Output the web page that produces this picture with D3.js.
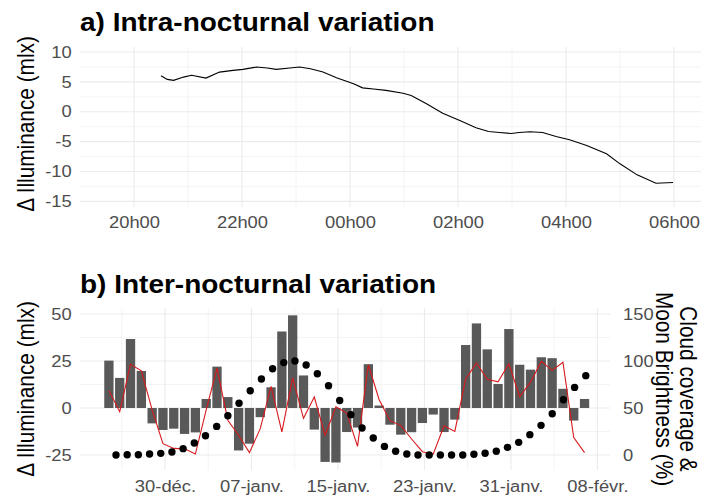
<!DOCTYPE html>
<html><head><meta charset="utf-8">
<script src="https://cdn.jsdelivr.net/npm/d3@7"></script>
<style>body{margin:0;background:#fff} svg{display:block} text{font-family:"Liberation Sans",Arial,sans-serif}</style>
</head><body><svg id="c" width="706" height="495"></svg>
<script>
// ---------- Panel a data ----------
const timesA = ["20:30","20:37","20:44","20:55","21:04","21:20","21:35","21:50","22:01","22:16","22:28","22:38","22:53","23:04","23:16","23:30","23:45","00:04","00:14","00:26","00:40","00:59","01:08","01:25","01:43","02:02","02:20","02:34","02:46","02:59","03:08","03:20","03:34","03:49","04:04","04:23","04:45","05:00","05:19","05:40","05:59"];
const illumA = [6.04,5.42,5.25,5.8,6.1,5.64,6.64,6.93,7.1,7.48,7.32,7.1,7.32,7.48,7.2,6.64,5.7,4.7,4.0,3.8,3.57,3.1,2.73,1.34,-0.24,-1.46,-2.69,-3.3,-3.47,-3.64,-3.47,-3.36,-3.47,-4.14,-4.7,-5.65,-7.05,-8.72,-10.57,-11.97,-11.86];
const hourTicksA = ["20:00","22:00","00:00","02:00","04:00","06:00"];
const hourMinorA = ["21:00","23:00","01:00","03:00","05:00"];
const yTicksA = [-15,-10,-5,0,5,10];
const yMinorA = [-12.5,-7.5,-2.5,2.5,7.5];

// ---------- Panel b data ----------
const nights = ["2019-12-24","2019-12-25","2019-12-26","2019-12-27","2019-12-28","2019-12-29","2019-12-30","2019-12-31",
"2020-01-01","2020-01-02","2020-01-03","2020-01-04","2020-01-05","2020-01-06","2020-01-07","2020-01-08","2020-01-09","2020-01-10",
"2020-01-11","2020-01-12","2020-01-13","2020-01-14","2020-01-15","2020-01-16","2020-01-17","2020-01-18","2020-01-19","2020-01-20",
"2020-01-21","2020-01-22","2020-01-23","2020-01-24","2020-01-25","2020-01-26","2020-01-27","2020-01-28","2020-01-29","2020-01-30",
"2020-01-31","2020-02-01","2020-02-02","2020-02-03","2020-02-04","2020-02-05","2020-02-06"];
const illumB = [25.2,16.0,36.7,19.7,-8.2,-11.7,-11.0,-13.8,-13.0,4.8,22.0,5.8,-22.6,-19.0,-4.9,11.0,40.7,49.3,17.3,-11.5,-28.7,-29.0,-12.8,-10.4,23.3,1.3,-8.9,-14.2,-12.9,-8.0,-3.5,-12.8,-6.2,33.5,45.0,31.2,12.8,42.0,23.0,20.4,27.0,26.5,10.2,-6.7,4.8];
const cloudB = [68.7,46,96.5,89.5,48,12,7,6.5,1,48,92.5,37,21,2.5,28,73,24.5,82,39,61.7,21,51.3,44.5,9.1,96,58.8,36.5,31.5,17,3.5,0.8,31,25.1,81,98,80.5,77.8,97,62,77.5,99.6,90,98.7,18.6,2.5];
const moonTimes = ["2019-12-25 11:15","2019-12-26 12:05","2019-12-27 12:55","2019-12-28 13:45","2019-12-29 14:35","2019-12-30 15:25","2019-12-31 16:15",
"2020-01-01 17:05","2020-01-02 17:55","2020-01-03 18:45","2020-01-04 19:35","2020-01-05 20:25","2020-01-06 21:15","2020-01-07 22:05","2020-01-08 22:55",
"2020-01-09 23:45","2020-01-11 00:35","2020-01-12 01:25","2020-01-13 02:15","2020-01-14 03:05","2020-01-15 03:55","2020-01-16 04:45","2020-01-17 05:35",
"2020-01-18 06:25","2020-01-19 07:15","2020-01-20 08:05","2020-01-21 08:55","2020-01-22 09:45","2020-01-23 10:35","2020-01-24 11:25","2020-01-25 12:15",
"2020-01-26 13:05","2020-01-27 13:55","2020-01-28 14:45","2020-01-29 15:35","2020-01-30 16:25","2020-01-31 17:15","2020-02-01 18:05","2020-02-02 18:55",
"2020-02-03 19:45","2020-02-04 20:35","2020-02-05 21:25","2020-02-06 22:15"];
const moonB = [0,0.3,0.3,1,1.7,3.2,6.7,12.8,20.5,30.4,41.8,55,68.4,80.8,91.7,98.3,100,95.7,86.5,73.7,58,42.9,28.7,18.1,9.1,3.9,1,0,0,0,0,0,0.7,1.8,3.9,8.1,13.4,21.6,31.5,43.9,58.8,71.9,84.4];
const dateTicksB = ["2019-12-30","2020-01-07","2020-01-15","2020-01-23","2020-01-31","2020-02-08"];
const dateLabelsB = ["30-déc.","07-janv.","15-janv.","23-janv.","31-janv.","08-févr."];
const dateMinorB = ["2019-12-26","2020-01-03","2020-01-11","2020-01-19","2020-01-27","2020-02-04"];
const yTicksB = [-25,0,25,50];
const yMinorB = [-12.5,12.5,37.5];
const secTicksB = [0,50,100,150];

// ---------- helpers ----------
const S = 1.12;            // horizontal text stretch seen in the reference
const TICK_FS = 16.4, TITLE_FS = 25, AXT_FS = 20.8;
const GRID = "#EBEBEB";
const svg = d3.select("#c");
const parseDT = d3.timeParse("%Y-%m-%d %H:%M");
const parseD = d3.timeParse("%Y-%m-%d");
const toTimeA = s => parseDT((+s.slice(0,2) >= 12 ? "2020-01-01 " : "2020-01-02 ") + s);

function styleAxis(g){
  g.attr("font-family",'"Liberation Sans",Arial,sans-serif').attr("font-size",TICK_FS);
  g.select(".domain").remove();
  g.selectAll(".tick line").remove();
  g.selectAll("text").attr("fill","#4D4D4D");
}
function hGrid(g, x0, x1, y, vals, w){
  g.selectAll(null).data(vals).join("line")
   .attr("x1",x0).attr("x2",x1).attr("y1",d=>y(d)).attr("y2",d=>y(d))
   .attr("stroke",GRID).attr("stroke-width",w);
}
function vGrid(g, y0, y1, x, vals, w){
  g.selectAll(null).data(vals).join("line")
   .attr("y1",y0).attr("y2",y1).attr("x1",d=>x(d)).attr("x2",d=>x(d))
   .attr("stroke",GRID).attr("stroke-width",w);
}
function title(txt, x, y){
  svg.append("text").attr("transform",`translate(${x},${y}) scale(${S},1)`)
    .attr("font-size",TITLE_FS).attr("font-weight","bold").attr("fill","#000").text(txt);
}

// ================= Panel a =================
{
  const L=80,R=701,T=47,B=207;
  const x = d3.scaleTime().domain([toTimeA("19:00"), toTimeA("06:30")]).range([L,R]);
  const y = d3.scaleLinear().domain([-15.95,10.84]).range([B,T]);
  const g = svg.append("g");
  hGrid(g,L,R,y,yMinorA,0.55);
  vGrid(g,T,B,x,hourMinorA.map(toTimeA),0.55);
  hGrid(g,L,R,y,yTicksA,1.1);
  vGrid(g,T,B,x,hourTicksA.map(toTimeA),1.1);

  const line = d3.line().x(d=>x(d.t)).y(d=>y(d.v));
  const pts = timesA.map((t,i)=>({t:toTimeA(t), v:illumA[i]}));
  g.append("path").datum(pts).attr("d",line).attr("fill","none").attr("stroke","#000").attr("stroke-width",1.1);

  const ax = svg.append("g").attr("transform",`translate(0,${B})`)
    .call(d3.axisBottom(x).tickValues(hourTicksA.map(toTimeA)).tickFormat(d3.timeFormat("%Hh%M")).tickSize(0).tickPadding(9.2));
  styleAxis(ax); ax.selectAll("text").attr("transform",`scale(${S},1)`);
  const ay = svg.append("g").attr("transform",`translate(${L},0)`)
    .call(d3.axisLeft(y).tickValues(yTicksA).tickFormat(d=>String(d)).tickSize(0));
  styleAxis(ay); ay.selectAll("text").attr("x",-8.3/S).attr("transform",`scale(${S},1)`);

  title("a) Intra-nocturnal variation", 80, 30.5);
  svg.append("text").attr("transform",`translate(27.5,124) scale(${S},1) rotate(-90)`)
    .attr("text-anchor","middle").attr("dy","0.3em").attr("font-size",AXT_FS).attr("fill","#000")
    .text("Δ Illuminance (mlx)");
}

// ================= Panel b =================
{
  const L=80,R=610,T=308,B=470;
  const x = d3.scaleTime().domain([parseDT("2019-12-22 03:20"), parseDT("2020-02-09 04:00")]).range([L,R]);
  const y = d3.scaleLinear().domain([-33,53.2]).range([B,T]);
  const ySec = d3.scaleLinear().domain([2*(-33+25), 2*(53.2+25)]).range([B,T]);
  const g = svg.append("g");
  hGrid(g,L,R,y,yMinorB,0.55);
  vGrid(g,T,B,x,dateMinorB.map(parseD),0.55);
  hGrid(g,L,R,y,yTicksB,1.1);
  vGrid(g,T,B,x,dateTicksB.map(parseD),1.1);

  const night = s => parseDT(s+" 19:30");
  const halfW = 0.43*864e5;
  const bars = nights.map((n,i)=>({t:night(n), v:illumB[i], c:cloudB[i]}));
  g.selectAll("rect.bar").data(bars).join("rect").attr("class","bar")
    .attr("x",d=>x(new Date(+d.t-halfW))).attr("width",d=>x(new Date(+d.t+halfW))-x(new Date(+d.t-halfW)))
    .attr("y",d=>Math.min(y(d.v),y(0))).attr("height",d=>Math.abs(y(d.v)-y(0)))
    .attr("fill","#595959");

  g.append("path").datum(bars).attr("d",d3.line().x(d=>x(d.t)).y(d=>ySec(d.c)))
    .attr("fill","none").attr("stroke","#D7191C").attr("stroke-width",1.1);

  const moon = moonTimes.map((t,i)=>({t:parseDT(t), v:moonB[i]}));
  g.selectAll("circle").data(moon).join("circle")
    .attr("cx",d=>x(d.t)).attr("cy",d=>ySec(d.v)).attr("r",3.7).attr("fill","#000");

  const ax = svg.append("g").attr("transform",`translate(0,${B})`)
    .call(d3.axisBottom(x).tickValues(dateTicksB.map(parseD)).tickFormat((d,i)=>dateLabelsB[i]).tickSize(0).tickPadding(10));
  styleAxis(ax); ax.selectAll("text").attr("transform",`scale(${S},1)`);
  const ay = svg.append("g").attr("transform",`translate(${L},0)`)
    .call(d3.axisLeft(y).tickValues(yTicksB).tickFormat(d=>String(d)).tickSize(0));
  styleAxis(ay); ay.selectAll("text").attr("x",-8.3/S).attr("transform",`scale(${S},1)`);
  const ar = svg.append("g").attr("transform",`translate(${R},0)`)
    .call(d3.axisRight(ySec).tickValues(secTicksB).tickFormat(d=>String(d)).tickSize(0));
  styleAxis(ar); ar.selectAll("text").attr("x",13/S).attr("transform",`scale(${S},1)`);

  title("b) Inter-nocturnal variation", 80, 293);
  svg.append("text").attr("transform",`translate(27.5,389) scale(${S},1) rotate(-90)`)
    .attr("text-anchor","middle").attr("dy","0.3em").attr("font-size",AXT_FS).attr("fill","#000")
    .text("Δ Illuminance (mlx)");
  svg.append("text").attr("transform",`translate(687,389) scale(${S},1) rotate(90)`)
    .attr("text-anchor","middle").attr("dy","0.3em").attr("font-size",AXT_FS).attr("fill","#000")
    .text("Cloud coverage &");
  svg.append("text").attr("transform",`translate(662.5,389) scale(${S},1) rotate(90)`)
    .attr("text-anchor","middle").attr("dy","0.3em").attr("font-size",AXT_FS).attr("fill","#000")
    .text("Moon Brightness (%)");
}
</script></body></html>
